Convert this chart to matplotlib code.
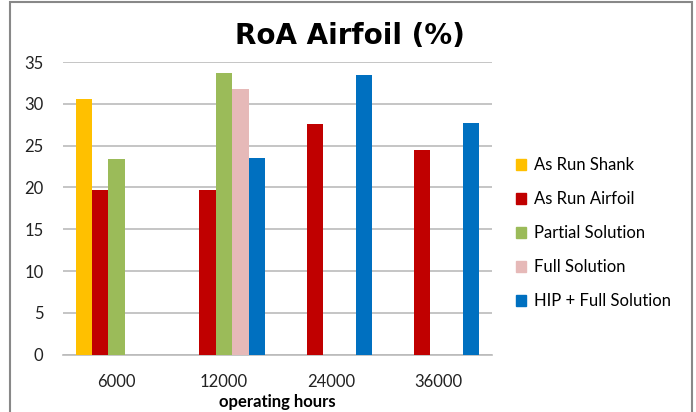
import matplotlib.pyplot as plt
import numpy as np
from matplotlib.patches import Rectangle, Patch

# Data (NaN = no bar in that slot)
HOURS = ["6000", "12000", "24000", "36000"]
SERIES = ["As Run Shank", "As Run Airfoil", "Partial Solution",
          "Full Solution", "HIP + Full Solution"]
AS_RUN_SHANK = [30.6, np.nan, np.nan, np.nan]
AS_RUN_AIRFOIL = [19.7, 19.7, 27.6, 24.5]
PARTIAL_SOLUTION = [23.4, 33.7, np.nan, np.nan]
FULL_SOLUTION = [np.nan, 31.8, np.nan, np.nan]
HIP_FULL_SOLUTION = [np.nan, 23.5, 33.5, 27.7]
COLOURS = ["#FFC000", "#C00000", "#9BBB59", "#E6B9B8", "#0070C0"]

plt.rcParams["font.family"] = ["Lato", "DejaVu Sans"]

fig = plt.figure(figsize=(6.96, 4.12), dpi=100)
ax = fig.add_axes([0.0905, 0.139, 0.6165, 0.7105])

values = [AS_RUN_SHANK, AS_RUN_AIRFOIL, PARTIAL_SOLUTION,
          FULL_SOLUTION, HIP_FULL_SOLUTION]
x = np.arange(len(HOURS))
w = 0.153
for i, (vals, col) in enumerate(zip(values, COLOURS)):
    ax.bar(x + (i - 2) * w, vals, width=w, color=col, zorder=3)

ax.set_xlim(-0.5, len(HOURS) - 0.5)
ax.set_ylim(0, 35)
ax.set_yticks(range(0, 36, 5))
ax.set_xticks(x)
ax.set_xticklabels(HOURS)
ax.tick_params(length=0, labelsize=12, colors="#222222")
ax.tick_params(axis="y", pad=14)
ax.tick_params(axis="x", pad=14)
ax.grid(axis="y", color="#BBBBBB", linewidth=1.2, zorder=0)
for s in ["top", "right", "left"]:
    ax.spines[s].set_visible(False)
ax.spines["bottom"].set_color("#BBBBBB")
ax.spines["bottom"].set_linewidth(1.2)
ax.set_xlabel("operating hours", fontsize=12, fontweight="bold", labelpad=3)

fig.text(0.503, 0.912, "RoA Airfoil (%)", ha="center", va="center",
         fontsize=20, fontweight="bold", family="DejaVu Sans")

handles = [Patch(color=c) for c in COLOURS]
fig.legend(handles, SERIES, loc="center left", bbox_to_anchor=(0.72, 0.434),
           frameon=False, fontsize=12, handlelength=0.6, handleheight=0.6,
           handletextpad=0.5, labelspacing=1.08)

# outer chart frame
fig.add_artist(Rectangle((0.0144, -0.05), 0.980, 1.045, transform=fig.transFigure,
                         fill=False, edgecolor="#888888", linewidth=1.5))

fig.savefig("out.png", dpi=100)
